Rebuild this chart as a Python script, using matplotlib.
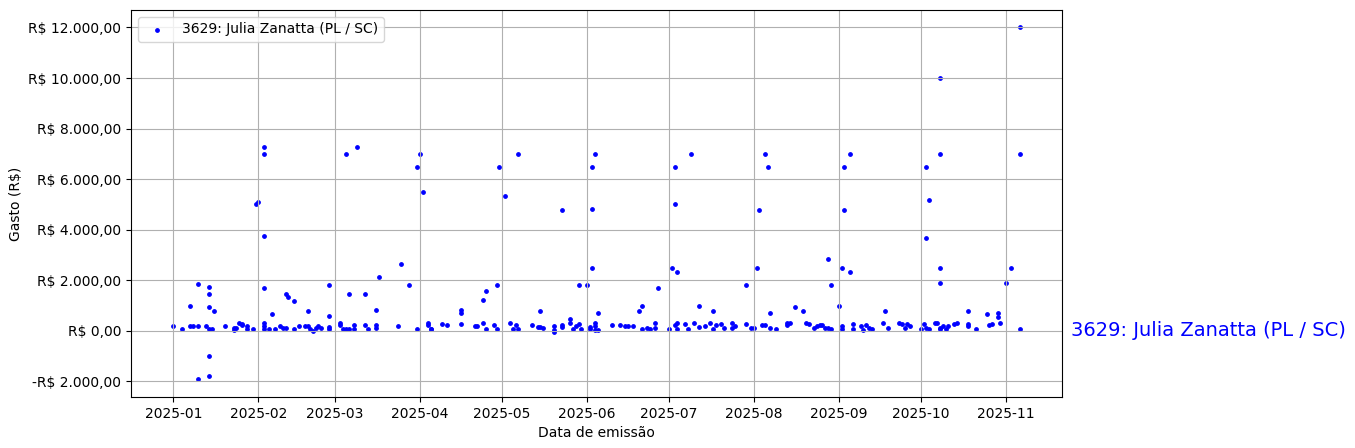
import numpy as np
import pandas as pd
import matplotlib
matplotlib.use("Agg")
import matplotlib.pyplot as plt
import matplotlib.dates as mdates
from matplotlib.ticker import FuncFormatter

nome = "3629: Julia Zanatta (PL / SC)"

# datas de emissão e gastos (R$), mês a mês
datas = [
    "2025-01-01", "2025-01-04", "2025-01-07", "2025-01-07", "2025-01-08", "2025-01-10", "2025-01-10",
    "2025-01-10", "2025-01-13", "2025-01-14", "2025-01-14", "2025-01-14", "2025-01-14", "2025-01-14",
    "2025-01-14", "2025-01-15", "2025-01-16", "2025-01-20", "2025-01-23", "2025-01-23", "2025-01-24",
    "2025-01-25", "2025-01-26", "2025-01-26", "2025-01-28", "2025-01-28", "2025-01-30", "2025-01-31",
    "2025-02-01", "2025-02-03", "2025-02-03", "2025-02-03", "2025-02-03", "2025-02-03", "2025-02-03",
    "2025-02-03", "2025-02-05", "2025-02-06", "2025-02-07", "2025-02-09", "2025-02-10", "2025-02-11",
    "2025-02-11", "2025-02-12", "2025-02-14", "2025-02-14", "2025-02-16", "2025-02-18", "2025-02-19",
    "2025-02-19", "2025-02-20", "2025-02-21", "2025-02-22", "2025-02-23", "2025-02-24", "2025-02-27",
    "2025-02-27", "2025-02-27", "2025-02-27",
    "2025-03-03", "2025-03-03", "2025-03-04", "2025-03-05", "2025-03-05", "2025-03-06", "2025-03-06",
    "2025-03-08", "2025-03-08", "2025-03-09", "2025-03-12", "2025-03-12", "2025-03-13", "2025-03-16",
    "2025-03-16", "2025-03-16", "2025-03-17", "2025-03-24", "2025-03-25", "2025-03-28", "2025-03-31",
    "2025-03-31",
    "2025-04-01", "2025-04-02", "2025-04-04", "2025-04-04", "2025-04-05", "2025-04-05", "2025-04-09",
    "2025-04-11", "2025-04-16", "2025-04-16", "2025-04-16", "2025-04-21", "2025-04-22", "2025-04-24",
    "2025-04-24", "2025-04-25", "2025-04-25", "2025-04-28", "2025-04-29", "2025-04-29", "2025-04-30",
    "2025-05-02", "2025-05-04", "2025-05-05", "2025-05-06", "2025-05-07", "2025-05-07", "2025-05-12",
    "2025-05-14", "2025-05-15", "2025-05-15", "2025-05-16", "2025-05-20", "2025-05-20", "2025-05-20",
    "2025-05-23", "2025-05-23", "2025-05-23", "2025-05-26", "2025-05-26", "2025-05-27", "2025-05-28",
    "2025-05-29", "2025-05-29", "2025-05-30",
    "2025-06-01", "2025-06-02", "2025-06-02", "2025-06-03", "2025-06-03", "2025-06-03", "2025-06-04",
    "2025-06-04", "2025-06-04", "2025-06-04", "2025-06-05", "2025-06-05", "2025-06-10", "2025-06-13",
    "2025-06-15", "2025-06-16", "2025-06-18", "2025-06-20", "2025-06-21", "2025-06-21", "2025-06-23",
    "2025-06-24", "2025-06-26", "2025-06-26", "2025-06-27",
    "2025-07-01", "2025-07-02", "2025-07-03", "2025-07-03", "2025-07-03", "2025-07-04", "2025-07-04",
    "2025-07-04", "2025-07-07", "2025-07-08", "2025-07-09", "2025-07-10", "2025-07-12", "2025-07-12",
    "2025-07-14", "2025-07-16", "2025-07-17", "2025-07-17", "2025-07-18", "2025-07-20", "2025-07-21",
    "2025-07-24", "2025-07-24", "2025-07-25", "2025-07-29", "2025-07-29", "2025-07-31",
    "2025-08-01", "2025-08-02", "2025-08-03", "2025-08-04", "2025-08-05", "2025-08-05", "2025-08-06",
    "2025-08-07", "2025-08-07", "2025-08-09", "2025-08-13", "2025-08-13", "2025-08-14", "2025-08-16",
    "2025-08-19", "2025-08-20", "2025-08-21", "2025-08-23", "2025-08-24", "2025-08-25", "2025-08-26",
    "2025-08-27", "2025-08-28", "2025-08-28", "2025-08-29", "2025-08-29",
    "2025-09-01", "2025-09-02", "2025-09-02", "2025-09-02", "2025-09-03", "2025-09-03", "2025-09-05",
    "2025-09-05", "2025-09-06", "2025-09-06", "2025-09-09", "2025-09-10", "2025-09-11", "2025-09-12",
    "2025-09-13", "2025-09-17", "2025-09-18", "2025-09-19", "2025-09-23", "2025-09-24", "2025-09-25",
    "2025-09-26", "2025-09-27",
    "2025-10-01", "2025-10-02", "2025-10-03", "2025-10-03", "2025-10-03", "2025-10-04", "2025-10-04",
    "2025-10-06", "2025-10-07", "2025-10-08", "2025-10-08", "2025-10-08", "2025-10-08", "2025-10-08",
    "2025-10-08", "2025-10-09", "2025-10-10", "2025-10-11", "2025-10-13", "2025-10-14", "2025-10-18",
    "2025-10-18", "2025-10-18", "2025-10-21", "2025-10-25", "2025-10-26", "2025-10-27", "2025-10-29",
    "2025-10-29", "2025-10-30",
    "2025-11-01", "2025-11-03", "2025-11-06", "2025-11-06", "2025-11-06",
]

gastos = [
    185, 66, 1000, 190, 190, 190, 1850,
    -1920, 190, 80, 1740, 1460, 950, -1000,
    -1800, 80, 780, 190, 110, 30, 110,
    320, 270, 230, 190, 70, 70, 5000,
    5110, 7270, 7000, 3760, 1700, 290, 190,
    70, 70, 660, 70, 190, 130, 130,
    1460, 1340, 1180, 70, 200, 190, 190,
    780, 70, 0, 130, 190, 130, 580,
    150, 70, 1820,
    320, 230, 70, 70, 7000, 1460, 70,
    230, 70, 7270, 230, 1460, 80, 820,
    230, 130, 2130, 190, 2650, 1820, 70,
    6480,
    7000, 5510, 320, 230, 70, 70, 270,
    230, 820, 720, 270, 190, 190, 320,
    1220, 80, 1580, 230, 70, 1820, 6480,
    5350, 320, 70, 230, 70, 7000, 230,
    150, 780, 150, 130, 190, 40, -30,
    150, 230, 4760, 450, 320, 80, 190,
    270, 1820, 80,
    1820, 150, 80, 6480, 4800, 2490, 7000,
    320, 190, 40, 700, 40, 230, 230,
    190, 190, 190, 780, 980, 80, 130,
    70, 320, 130, 1700,
    70, 2490, 6480, 5000, 230, 2330, 320,
    70, 270, 70, 7000, 320, 980, 150,
    190, 320, 780, 70, 230, 270, 130,
    320, 130, 190, 270, 1820, 130,
    130, 2490, 4760, 230, 7000, 230, 6480,
    700, 130, 70, 290, 230, 320, 940,
    780, 320, 270, 130, 190, 230, 230,
    130, 130, 2850, 70, 1820,
    980, 190, 70, 2490, 6480, 4760, 7000,
    2330, 270, 70, 190, 30, 230, 130,
    70, 320, 780, 130, 320, 270, 130,
    270, 190,
    70, 270, 130, 6480, 3680, 5190, 70,
    320, 320, 130, 7000, 2490, 1900, 10000,
    70, 190, 70, 190, 270, 320, 780,
    270, 190, 80, 660, 230, 270, 700,
    550, 320,
    1900, 2490, 7000, 70, 12000,
]


def formata_real(v, pos):
    s = "{:,.2f}".format(abs(v)).replace(",", "X").replace(".", ",").replace("X", ".")
    return ("-R$ " if v < 0 else "R$ ") + s


x = pd.to_datetime(datas)

fig = plt.figure(figsize=(13.55, 4.48), dpi=100)
ax = fig.add_axes([0.0967, 0.114, 0.687, 0.864])

ax.scatter(x, gastos, s=6, color="blue", label=nome)

ax.xaxis.set_major_locator(mdates.MonthLocator())
ax.xaxis.set_major_formatter(mdates.DateFormatter("%Y-%m"))
ax.yaxis.set_major_formatter(FuncFormatter(formata_real))

ax.set_xlabel("Data de emissão")
ax.set_ylabel("Gasto (R$)")
ax.grid(True)
ax.legend(loc="upper left")

# rótulo do deputado à direita, na altura do zero
ax.text(1.01, 0, nome, color="blue", fontsize=14, va="center",
        transform=ax.get_yaxis_transform())

fig.savefig("out.png", dpi=100)
